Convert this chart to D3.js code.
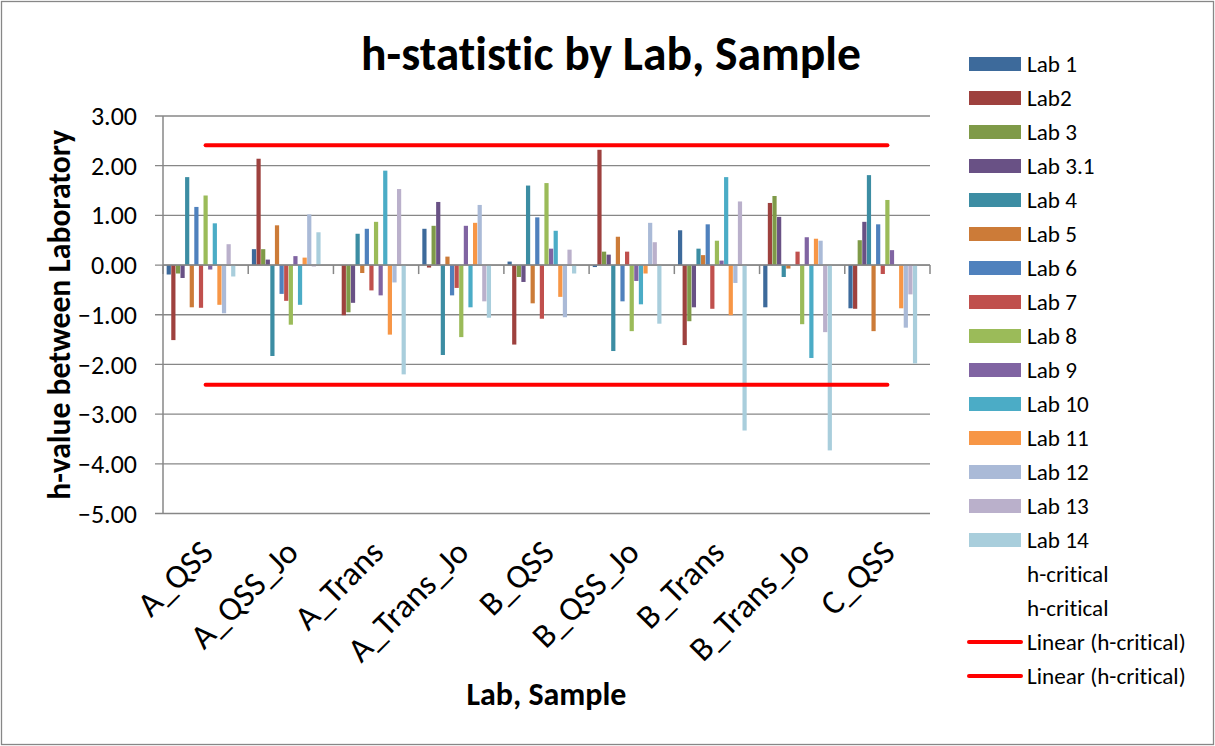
<!DOCTYPE html>
<html>
<head>
<meta charset="utf-8">
<script src="https://cdn.jsdelivr.net/npm/d3@7"></script>
<style>
  body { margin: 0; background: #fff; }
  svg { display: block; }
  text { font-family: Carlito, Calibri, Lato, "Open Sans", sans-serif; fill: #000; font-variant-ligatures: none; }
</style>
</head>
<body>
<div id="chart"></div>
<script>
// categories on the x axis
const categories = ["A_QSS", "A_QSS_Jo", "A_Trans", "A_Trans_Jo", "B_QSS", "B_QSS_Jo", "B_Trans", "B_Trans_Jo", "C_QSS"];

// h-values per lab, one value per category
const lab1  = [-0.19,  0.32,  0.00,  0.73,  0.07, -0.04,  0.70, -0.85, -0.87];
const lab2  = [-1.51,  2.14, -1.01, -0.05, -1.60,  2.32, -1.61,  1.25, -0.88];
const lab3  = [-0.17,  0.32, -0.95,  0.79, -0.24,  0.27, -1.13,  1.39,  0.50];
const lab31 = [-0.26,  0.11, -0.76,  1.27, -0.34,  0.21, -0.85,  0.97,  0.87];
const lab4  = [ 1.77, -1.83,  0.63, -1.81,  1.60, -1.73,  0.33, -0.24,  1.81];
const lab5  = [-0.85,  0.80, -0.16,  0.17, -0.77,  0.57,  0.20, -0.07, -1.33];
const lab6  = [ 1.17, -0.58,  0.73, -0.61,  0.96, -0.73,  0.82,  0.00,  0.82];
const lab7  = [-0.86, -0.72, -0.51, -0.46, -1.08,  0.27, -0.88,  0.27, -0.18];
const lab8  = [ 1.40, -1.20,  0.87, -1.45,  1.65, -1.33,  0.49, -1.19,  1.31];
const lab9  = [-0.09,  0.18, -0.61,  0.79,  0.33, -0.32,  0.09,  0.56,  0.30];
const lab10 = [ 0.84, -0.80,  1.90, -0.85,  0.69, -0.79,  1.77, -1.87,  0.00];
const lab11 = [-0.80,  0.15, -1.40,  0.85, -0.64, -0.17, -1.01,  0.53, -0.87];
const lab12 = [-0.97,  1.02, -0.35,  1.21, -1.05,  0.85, -0.36,  0.49, -1.26];
const lab13 = [ 0.42, -0.03,  1.53, -0.73,  0.31,  0.46,  1.28, -1.35, -0.59];
const lab14 = [-0.23,  0.66, -2.20, -1.06, -0.17, -1.18, -3.33, -3.73, -1.98];

const labNames  = ["Lab 1", "Lab2", "Lab 3", "Lab 3.1", "Lab 4", "Lab 5", "Lab 6", "Lab 7", "Lab 8", "Lab 9", "Lab 10", "Lab 11", "Lab 12", "Lab 13", "Lab 14"];
const labValues = [lab1, lab2, lab3, lab31, lab4, lab5, lab6, lab7, lab8, lab9, lab10, lab11, lab12, lab13, lab14];
const labColors = ["#3d6a9b", "#9e413e", "#7f9a48", "#695185", "#3c8da3", "#cc7b38", "#4f81bd", "#c0504d",
                   "#9bbb59", "#8064a2", "#4bacc6", "#f79646", "#aabad7", "#bab0cb", "#a9cedc"];

// critical h, shown as two invisible bar series with linear trendlines
const critNames  = ["h-critical", "h-critical"];
const critValues = [2.41, -2.41];
const trendNames = ["Linear (h-critical)", "Linear (h-critical)"];

const yTicks = [3, 2, 1, 0, -1, -2, -3, -4, -5];

const W = 1215, H = 746;
const plot = {left: 163, right: 930, top: 116, bottom: 513.5};
const gridColor = "#878787";

const svg = d3.select("#chart")
  .append("svg")
    .attr("width", W)
    .attr("height", H);

svg.append("rect")
  .attr("x", 1.5).attr("y", 1.5)
  .attr("width", W - 3).attr("height", H - 3)
  .attr("fill", "#fff")
  .attr("stroke", gridColor)
  .attr("stroke-width", 1.3);

// pick a font size so that a string gets a given width
function fitSize(txt, weight, target) {
  const t = svg.append("text").attr("font-size", 100).attr("font-weight", weight).text(txt);
  const w = t.node().getComputedTextLength();
  t.remove();
  return 100 * target / w;
}

const y = d3.scaleLinear()
  .domain([-5, 3])
  .range([plot.bottom, plot.top]);

const x0 = d3.scaleBand()
  .domain(categories)
  .range([plot.left, plot.right])
  .paddingInner(0)
  .paddingOuter(0);

// 15 labs + 2 h-critical slots, 150% gap
const x1 = d3.scaleBand()
  .domain(d3.range(labNames.length + critNames.length))
  .range([0, x0.bandwidth()])
  .paddingInner(0)
  .paddingOuter(0.75);

// gridlines
svg.append("g")
  .selectAll("line")
  .data(yTicks)
  .enter()
  .append("line")
    .attr("x1", plot.left - 8)
    .attr("x2", plot.right)
    .attr("y1", d => y(d))
    .attr("y2", d => y(d))
    .attr("stroke", gridColor)
    .attr("stroke-width", 1.3);

// bars
const barData = [];
labValues.forEach((vals, i) => {
  vals.forEach((v, j) => barData.push({lab: i, cat: categories[j], v: v}));
});

svg.append("g")
  .selectAll("rect")
  .data(barData)
  .enter()
  .append("rect")
    .attr("x", d => x0(d.cat) + x1(d.lab) + 0.2)
    .attr("y", d => y(Math.max(0, d.v)))
    .attr("width", x1.bandwidth() - 0.4)
    .attr("height", d => Math.abs(y(d.v) - y(0)))
    .attr("fill", d => labColors[d.lab]);

// y axis line
svg.append("line")
  .attr("x1", plot.left).attr("x2", plot.left)
  .attr("y1", plot.top).attr("y2", plot.bottom)
  .attr("stroke", gridColor).attr("stroke-width", 1.5);

// x axis at zero with category ticks
svg.append("line")
  .attr("x1", plot.left).attr("x2", plot.right)
  .attr("y1", y(0)).attr("y2", y(0))
  .attr("stroke", gridColor).attr("stroke-width", 1.6);

const bounds = categories.map(c => x0(c)).concat([plot.right]);
svg.append("g")
  .selectAll("line")
  .data(bounds)
  .enter()
  .append("line")
    .attr("x1", d => d).attr("x2", d => d)
    .attr("y1", y(0)).attr("y2", y(0) + 9)
    .attr("stroke", gridColor).attr("stroke-width", 1.5);

// trendlines of h-critical
const xFirst = x0(categories[0]) + x0.bandwidth() / 2;
const xLast = x0(categories[categories.length - 1]) + x0.bandwidth() / 2;
svg.append("g")
  .selectAll("line")
  .data(critValues)
  .enter()
  .append("line")
    .attr("x1", xFirst).attr("x2", xLast)
    .attr("y1", d => y(d)).attr("y2", d => y(d))
    .attr("stroke", "#ff0000")
    .attr("stroke-width", 4)
    .attr("stroke-linecap", "round");

// y tick labels
const tickSize = fitSize("-5.00", 400, 54);
svg.append("g")
  .selectAll("text")
  .data(yTicks)
  .enter()
  .append("text")
    .attr("x", 137)
    .attr("y", d => y(d))
    .attr("dy", "0.35em")
    .attr("text-anchor", "end")
    .attr("font-size", tickSize)
    .text(d => d3.format(".2f")(d));

// x tick labels, rotated
const catSize = fitSize("A_QSS_Jo", 400, 136);
svg.append("g")
  .selectAll("text")
  .data(categories)
  .enter()
  .append("text")
    .attr("transform", d => `translate(${x0(d) + x0.bandwidth() / 2 + 1}, 546) rotate(-45)`)
    .attr("dy", "0.35em")
    .attr("text-anchor", "end")
    .attr("font-size", catSize)
    .text(d => d);

// titles
svg.append("text")
  .attr("x", 611).attr("y", 70)
  .attr("text-anchor", "middle")
  .attr("font-weight", "bold")
  .attr("font-size", fitSize("h-statistic by Lab, Sample", 700, 500))
  .text("h-statistic by Lab, Sample");

svg.append("text")
  .attr("x", (plot.left + plot.right) / 2).attr("y", 705)
  .attr("text-anchor", "middle")
  .attr("font-weight", "bold")
  .attr("font-size", fitSize("Lab, Sample", 700, 160))
  .text("Lab, Sample");

svg.append("text")
  .attr("transform", `translate(70, ${(plot.top + plot.bottom) / 2}) rotate(-90)`)
  .attr("text-anchor", "middle")
  .attr("font-weight", "bold")
  .attr("font-size", fitSize("h-value between Laboratory", 700, 370))
  .text("h-value between Laboratory");

// legend
const legendSize = fitSize("Lab 1", 400, 50);
const legendItems = labNames.map((n, i) => ({name: n, type: "bar", color: labColors[i]}))
  .concat(critNames.map(n => ({name: n, type: "none"})))
  .concat(trendNames.map(n => ({name: n, type: "line", color: "#ff0000"})));

const legend = svg.append("g")
  .selectAll("g")
  .data(legendItems)
  .enter()
  .append("g")
    .attr("transform", (d, i) => `translate(969, ${64 + i * 34})`);

legend.filter(d => d.type === "bar")
  .append("rect")
    .attr("x", 0).attr("y", -7)
    .attr("width", 52).attr("height", 14)
    .attr("fill", d => d.color);

legend.filter(d => d.type === "line")
  .append("line")
    .attr("x1", 0).attr("x2", 52)
    .attr("y1", 0).attr("y2", 0)
    .attr("stroke", d => d.color)
    .attr("stroke-width", 4)
    .attr("stroke-linecap", "round");

legend.append("text")
  .attr("x", 58)
  .attr("dy", "0.35em")
  .attr("font-size", legendSize)
  .text(d => d.name);
</script>
</body>
</html>
